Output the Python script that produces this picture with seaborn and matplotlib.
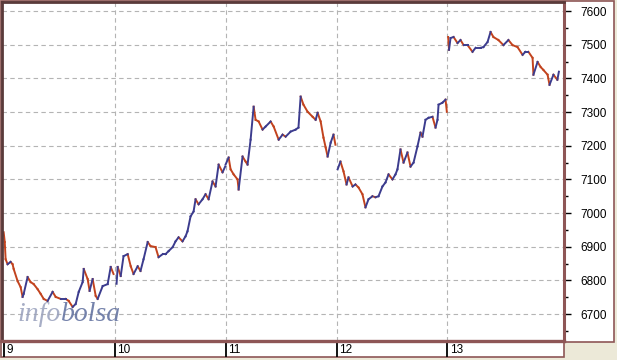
import numpy as np
import pandas as pd
import matplotlib
matplotlib.use("Agg")
import matplotlib.pyplot as plt
from matplotlib.patches import Rectangle
import seaborn as sns

# ---- data (minutes since session open, index level) ----
days = [9, 10, 11, 12, 13]
session_minutes = 510

d9_min = [0, 5, 9, 18, 32, 41, 46, 64, 78, 87, 92, 110, 124, 138, 156, 170, 184, 202, 225, 239,
          262, 285, 299, 317, 331, 345, 363, 368, 386, 395, 409, 423, 432, 455, 478, 492, 505]
d9_px = [6943, 6914, 6863, 6848, 6855, 6848, 6834, 6798, 6780, 6751, 6760, 6810, 6795, 6789, 6774,
         6760, 6745, 6739, 6766, 6751, 6745, 6745, 6739, 6721, 6730, 6766, 6795, 6834, 6804, 6769,
         6804, 6754, 6745, 6783, 6789, 6840, 6819]

d10_min = [9, 14, 28, 41, 60, 74, 87, 106, 119, 133, 152, 165, 188, 202, 221, 234, 248, 267, 280,
           294, 312, 326, 335, 349, 363, 372, 386, 404, 418, 432, 450, 464, 478, 496, 508]
d10_px = [6790, 6840, 6813, 6872, 6878, 6842, 6819, 6842, 6828, 6863, 6914, 6902, 6899, 6869, 6878,
          6878, 6887, 6899, 6916, 6928, 6916, 6931, 6946, 6990, 7005, 7041, 7026, 7041, 7056, 7041,
          7094, 7079, 7144, 7121, 7138]

d11_min = [0, 14, 23, 37, 55, 60, 78, 92, 101, 115, 129, 138, 152, 170, 184, 207, 221, 244, 262, 276,
           299, 322, 335, 345, 358, 377, 400, 414, 423, 437, 450, 460, 469, 483, 496, 505]
d11_px = [7144, 7165, 7130, 7115, 7100, 7070, 7168, 7153, 7144, 7218, 7316, 7277, 7272, 7248, 7257,
          7272, 7257, 7218, 7233, 7227, 7242, 7248, 7254, 7346, 7322, 7301, 7286, 7277, 7298, 7272,
          7224, 7195, 7168, 7209, 7233, 7203]

d12_min = [5, 18, 32, 46, 55, 74, 87, 101, 119, 133, 147, 165, 179, 193, 211, 225, 239, 257, 271, 280,
           294, 308, 326, 340, 354, 372, 386, 395, 409, 423, 441, 455, 464, 469, 487, 501, 507]
d12_px = [7130, 7153, 7124, 7085, 7106, 7079, 7085, 7076, 7056, 7017, 7041, 7050, 7047, 7050, 7079,
          7091, 7115, 7100, 7115, 7130, 7189, 7150, 7180, 7138, 7150, 7198, 7239, 7227, 7277, 7283,
          7286, 7254, 7277, 7322, 7328, 7337, 7301]

d13_min = [3, 7, 14, 28, 46, 60, 74, 92, 115, 129, 152, 165, 184, 198, 211, 234, 257, 280, 299, 322,
           345, 358, 372, 391, 395, 414, 428, 441, 460, 469, 487, 505, 512]
d13_px = [7523, 7485, 7520, 7523, 7505, 7514, 7499, 7499, 7479, 7491, 7491, 7493, 7508, 7538, 7523,
          7514, 7499, 7514, 7499, 7493, 7470, 7479, 7479, 7461, 7411, 7449, 7434, 7425, 7411, 7381,
          7411, 7396, 7420]

y_ticks = [6700, 6800, 6900, 7000, 7100, 7200, 7300, 7400, 7500, 7600]

# ---- build segment table ----
rows = []
seg_id = 0
for d, mins, px in zip(days, [d9_min, d10_min, d11_min, d12_min, d13_min],
                       [d9_px, d10_px, d11_px, d12_px, d13_px]):
    t = [d + m / session_minutes for m in mins]
    for i in range(len(px) - 1):
        direction = "up" if px[i + 1] >= px[i] else "down"
        rows.append((seg_id, t[i], px[i], direction))
        rows.append((seg_id, t[i + 1], px[i + 1], direction))
        seg_id += 1
seg = pd.DataFrame(rows, columns=["seg", "t", "price", "dir"])

# ---- figure ----
W, H = 617, 360
fig = plt.figure(figsize=(W / 100, H / 100), dpi=100)
fig.patch.set_facecolor("#ECE9D8")
border = "#8E5656"

def fr(x0, y0, x1, y1):
    return [x0 / W, 1 - y1 / H, (x1 - x0) / W, (y1 - y0) / H]

# white panels (behind everything)
r = fr(0.5, 0.5, 614, 342)
fig.patches.append(Rectangle((r[0], r[1]), r[2], r[3], transform=fig.transFigure,
                             facecolor="white", edgecolor=border, lw=1.2, zorder=-10))
r = fr(0.5, 341, 564, 357)
fig.patches.append(Rectangle((r[0], r[1]), r[2], r[3], transform=fig.transFigure,
                             facecolor="white", edgecolor=border, lw=1.2, zorder=-10))

ax = fig.add_axes(fr(2, 2, 564, 341))
ax.set_zorder(2)
ax.set_facecolor("white")
sns.lineplot(data=seg, x="t", y="price", hue="dir", units="seg", estimator=None,
             palette={"up": "#3C3C8E", "down": "#C2431E"}, linewidth=1.4,
             legend=False, sort=False, ax=ax)

ax.set_xlim(8.985, 14.05)
ax.set_ylim(6620, 7627)
ax.set_xlabel("")
ax.set_ylabel("")
ax.set_xticks(days[1:])
ax.set_xticklabels([])
ax.tick_params(axis="x", length=0)
ax.yaxis.tick_right()
ax.set_yticks(y_ticks)
ax.set_yticklabels([str(v) for v in y_ticks], fontsize=8.5, family="Liberation Sans")
ax.set_yticks([v + 50 for v in y_ticks[:-1]] + [6650], minor=True)
ax.tick_params(axis="y", which="major", length=5, width=1, color="black", pad=7, labelcolor="black")
ax.tick_params(axis="y", which="minor", length=3, width=1, color="black")
ax.grid(True, which="major", color="#B4B4B4", linestyle=(0, (4, 3)), linewidth=0.8)
ax.set_axisbelow(True)
for s in ["left", "top"]:
    ax.spines[s].set_color("#5A3A3A")
    ax.spines[s].set_linewidth(2.0)
ax.spines["right"].set_color(border)
ax.spines["right"].set_linewidth(2.2)
ax.spines["bottom"].set_color(border)
ax.spines["bottom"].set_linewidth(2.4)

# watermark
ax.text(0.027, 0.06, "info", transform=ax.transAxes, fontsize=20, family="Liberation Serif",
        style="italic", color="#98A0BC", alpha=0.85, zorder=5)
ax.text(0.105, 0.06, "bolsa", transform=ax.transAxes, fontsize=20, family="Liberation Serif",
        style="italic", color="#5C6C9C", alpha=0.85, zorder=5)

# x strip
axx = fig.add_axes(fr(2, 342, 564, 357))
axx.set_zorder(1)
axx.set_xlim(ax.get_xlim())
axx.set_ylim(0, 1)
axx.axis("off")
for d in days:
    axx.axvline(d, color="black", lw=1.3)
    axx.annotate(str(d), xy=(d, 0.45), xytext=(2, 0), textcoords="offset points",
                 ha="left", va="center", fontsize=8.5, family="Liberation Sans", color="black")

fig.savefig("out.png", dpi=100, facecolor=fig.get_facecolor())
